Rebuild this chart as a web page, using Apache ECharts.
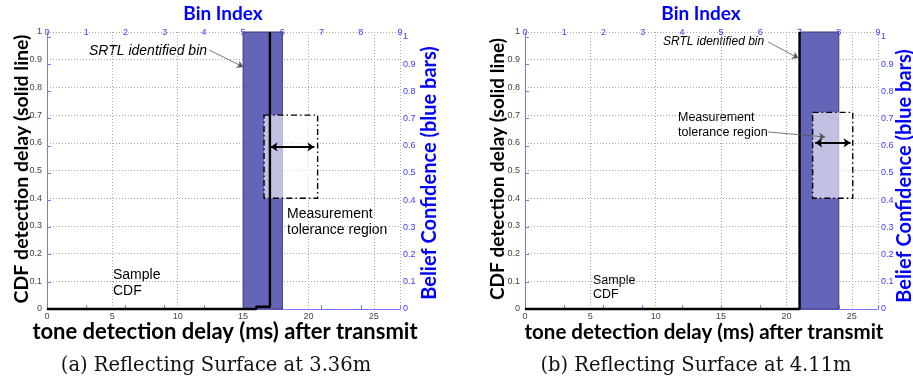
<!DOCTYPE html>
<html><head><meta charset="utf-8">
<script src="https://cdn.jsdelivr.net/npm/echarts@6/dist/echarts.min.js"></script>
<style>html,body{margin:0;padding:0;background:#fff}#c{width:913px;height:383px}</style>
</head><body><div id="c"></div>
<script>
// ---- data ----
const binLabels = ['0','1','2','3','4','5','6','7','8','9'];
const delayMax = 27;          // ms, bottom axis extent
const binMax = 9;             // bin index extent
// CDF of tone detection delay (ms, cumulative probability)
const cdfA = [[0,0],[16,0],[16,0.008],[17.05,0.008],[17.05,1]];
const cdfB = [[0,0],[21,0],[21,1]];
// belief confidence per bin (bins 0..8)
const beliefA = [0,0,0,0,0,1,0,0,0];
const beliefB = [0,0,0,0,0,0,0,1,0];
// measurement tolerance region [x0 ms, x1 ms, y0, y1]
const toleranceA = [16.6, 20.7, 0.40, 0.70];
const toleranceB = [22.0, 25.07, 0.40, 0.71];
// tolerance arrow [x0 ms, x1 ms, y]
const measureArrowA = [17.1, 20.45, 0.585];
const measureArrowB = [22.2, 24.9, 0.60];
// annotation pointers [[x,y],[x,y]]
const pointersA = [[[12.4,0.935],[15.0,0.874]]];
const pointersB = [[[18.6,0.964],[20.9,0.906]],[[18.6,0.639],[22.95,0.621]]];

const BLUE_LINE = '#7878ff', BLUE_TXT = '#3a3aff', BAR = '#6464b8';
const panels = [
  {left:47, width:353, cdf:cdfA, belief:beliefA, tol:toleranceA, arrow:measureArrowA, ptr:pointersA},
  {left:525, width:353, cdf:cdfB, belief:beliefB, tol:toleranceB, arrow:measureArrowB, ptr:pointersB}
];

const grid=[], xAxis=[], yAxis=[], series=[];
panels.forEach((P, k) => {
  const gA = grid.length; grid.push({left:P.left, width:P.width, top:32, height:277});
  const gB = grid.length; grid.push({left:P.left, width:P.width, top:37, height:272});
  const xMs = xAxis.length;
  xAxis.push({gridIndex:gA, type:'value', min:0, max:delayMax, interval:5, position:'bottom',
    axisLine:{show:true, onZero:false, lineStyle:{color:'#9a9a9a', width:1}}, axisTick:{show:false},
    axisLabel:{fontSize:9, color:'#444', margin:3, fontFamily:'Liberation Sans', formatter:v => (v % 5 === 0 ? String(v) : '')},
    splitLine:{show:true, lineStyle:{type:[1,2], color:'#a8a8a8', width:1}}});
  const xBinHidden = xAxis.length;
  xAxis.push({gridIndex:gA, type:'value', min:0, max:binMax, show:false, splitLine:{show:false}});
  xAxis.push({gridIndex:gB, type:'value', min:0, max:binMax, interval:1, position:'top',
    axisLine:{show:true, lineStyle:{color:BLUE_LINE, width:1}},
    axisTick:{show:true, inside:false, length:4, lineStyle:{color:BLUE_LINE}},
    axisLabel:{fontSize:9, color:BLUE_TXT, margin:0, fontFamily:'Liberation Sans', formatter:v => binLabels[v] || ''},
    splitLine:{show:false}});
  const yL = yAxis.length;
  yAxis.push({gridIndex:gA, type:'value', min:0, max:1, interval:0.1, position:'left',
    axisLine:{show:true, lineStyle:{color:'#9a9a9a', width:1}}, axisTick:{show:false},
    axisLabel:{fontSize:9, color:'#444', margin:5, fontFamily:'Liberation Sans'},
    splitLine:{show:true, lineStyle:{type:[1,2], color:'#a8a8a8', width:1}}});
  yAxis.push({gridIndex:gB, type:'value', min:0, max:1, interval:0.1, position:'right',
    axisLine:{show:true, lineStyle:{color:BLUE_LINE, width:1}},
    axisTick:{show:true, inside:false, length:4, lineStyle:{color:BLUE_LINE}},
    axisLabel:{fontSize:9, color:BLUE_TXT, margin:3, fontFamily:'Liberation Sans'},
    splitLine:{show:false}});

  // belief bars
  series.push({type:'custom', xAxisIndex:xBinHidden, yAxisIndex:yL, z:2,
    data:P.belief.map((v,i)=>[i,v]),
    renderItem:(params, api) => {
      const b = api.value(0), v = api.value(1);
      if (!v) return null;
      const p0 = api.coord([b,0]), p1 = api.coord([b+1,v]);
      return {type:'rect', shape:{x:p0[0], y:p1[1], width:p1[0]-p0[0], height:p0[1]-p1[1]},
        style:{fill:BAR, stroke:'#3a3a7a', lineWidth:1}};
    }});
  // tolerance region
  series.push({type:'custom', xAxisIndex:xMs, yAxisIndex:yL, z:3, data:[P.tol],
    renderItem:(params, api) => {
      const p0 = api.coord([api.value(0), api.value(2)]), p1 = api.coord([api.value(1), api.value(3)]);
      return {type:'rect', shape:{x:p0[0], y:p1[1], width:p1[0]-p0[0], height:p0[1]-p1[1]},
        style:{fill:'rgba(255,255,255,0.6)', stroke:'#000', lineWidth:1.4, lineDash:[6,3,1.5,3]}};
    }});
  // CDF
  series.push({type:'line', xAxisIndex:xMs, yAxisIndex:yL, z:4, data:P.cdf, symbol:'none',
    lineStyle:{color:'#000', width:2.4}, clip:false, animation:false});
  // tolerance arrow
  series.push({type:'lines', coordinateSystem:'cartesian2d', xAxisIndex:xMs, yAxisIndex:yL, z:5,
    symbol:['arrow','arrow'], symbolSize:7,
    lineStyle:{color:'#000', width:2, opacity:1},
    data:[{coords:[[P.arrow[0],P.arrow[2]],[P.arrow[1],P.arrow[2]]]}]});
  // annotation pointers
  series.push({type:'lines', coordinateSystem:'cartesian2d', xAxisIndex:xMs, yAxisIndex:yL, z:5,
    symbol:['none','arrow'], symbolSize:6,
    lineStyle:{color:'#555', width:0.8, opacity:1},
    data:P.ptr.map(c => ({coords:c}))});
});

const TF = 'Lato';
function txt(x, y, text, font, fill, extra) {
  return Object.assign({type:'text', x:x, y:y, silent:true,
    style:Object.assign({text:text, font:font, fill:fill, textAlign:'center', textVerticalAlign:'middle'}, extra && extra.style || {})},
    extra && extra.el || {});
}
const graphic = [
  // panel a
  txt(223, 14, 'Bin Index', 'bold 19px '+TF, '#0000ff'),
  txt(22, 169, 'CDF detection delay (solid line)', 'bold 19.5px '+TF, '#000', {el:{rotation:Math.PI/2}}),
  txt(430, 173, 'Belief Confidence (blue bars)', 'bold 20px '+TF, '#0000ff', {el:{rotation:Math.PI/2}}),
  txt(225, 332, 'tone detection delay (ms) after transmit', 'bold 22px '+TF, '#000'),
  txt(216, 366, '(a) Reflecting Surface at 3.36m', '19.5px "DejaVu Serif"', '#111'),
  txt(89, 51, 'SRTL identified bin', 'italic 14px "Liberation Sans"', '#000', {style:{textAlign:'left'}}),
  txt(287, 206, 'Measurement\ntolerance region', '14px "Liberation Sans"', '#000', {style:{textAlign:'left', textVerticalAlign:'top', lineHeight:16}}),
  txt(113, 267, 'Sample\nCDF', '14px "Liberation Sans"', '#000', {style:{textAlign:'left', textVerticalAlign:'top', lineHeight:16}}),
  // panel b
  txt(701, 14, 'Bin Index', 'bold 19px '+TF, '#0000ff'),
  txt(498, 169, 'CDF detection delay (solid line)', 'bold 19px '+TF, '#000', {el:{rotation:Math.PI/2}}),
  txt(905, 176, 'Belief Confidence (blue bars)', 'bold 20px '+TF, '#0000ff', {el:{rotation:Math.PI/2}}),
  txt(704, 332, 'tone detection delay (ms) after transmit', 'bold 20.5px '+TF, '#000'),
  txt(696, 366, '(b) Reflecting Surface at 4.11m', '19.5px "DejaVu Serif"', '#111'),
  txt(663, 42, 'SRTL identified bin', 'italic 12px "Liberation Sans"', '#000', {style:{textAlign:'left'}}),
  txt(678, 110, 'Measurement\ntolerance region', '12.5px "Liberation Sans"', '#000', {style:{textAlign:'left', textVerticalAlign:'top', lineHeight:15}}),
  txt(593, 274, 'Sample\nCDF', '12.5px "Liberation Sans"', '#000', {style:{textAlign:'left', textVerticalAlign:'top', lineHeight:14}})
];

const chart = echarts.init(document.getElementById('c'), null, {renderer:'canvas'});
chart.setOption({animation:false, backgroundColor:'#fff', grid, xAxis, yAxis, series, graphic});
</script></body></html>
